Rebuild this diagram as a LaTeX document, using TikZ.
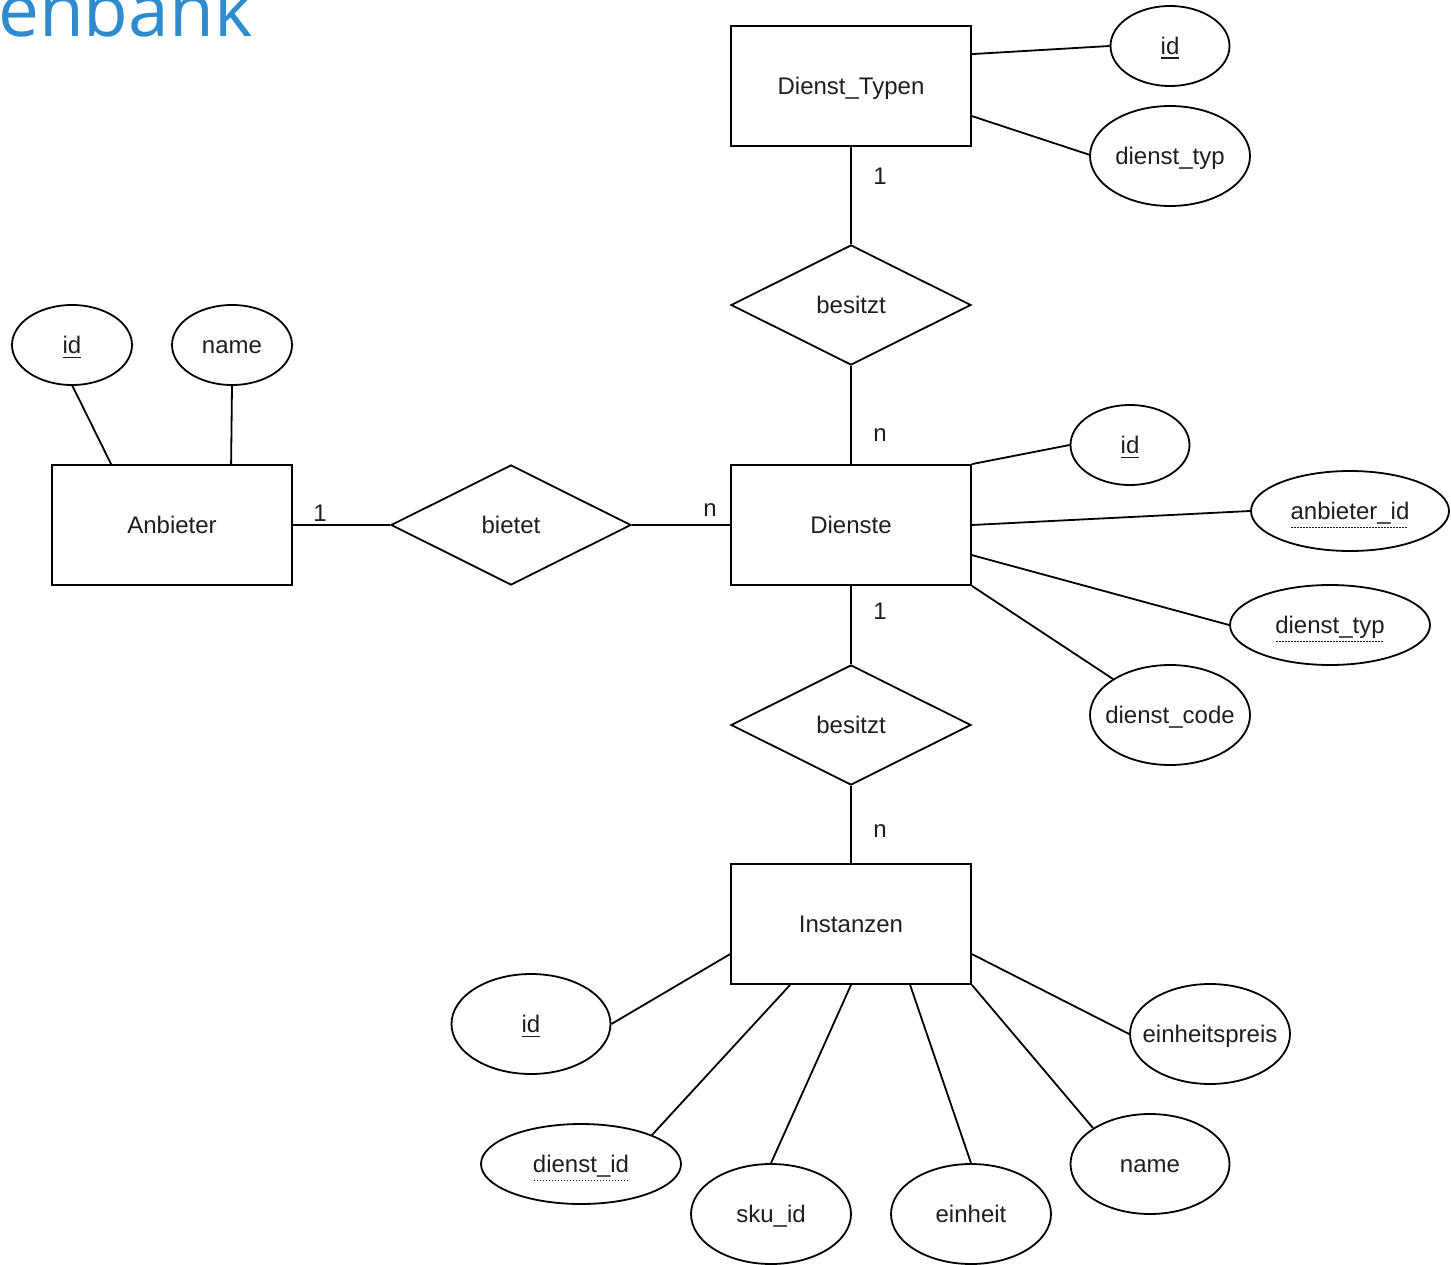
\documentclass[tikz,border=0pt]{standalone}
\usepackage{fontspec}
\setmainfont{Liberation Sans}
\newfontfamily\titlefont{Open Sans}
\usetikzlibrary{shapes.geometric,calc}
\definecolor{txt}{RGB}{30,30,30}
\definecolor{titleblue}{RGB}{46,139,206}
\newcommand{\myul}[1]{\setbox0\hbox{#1}\rlap{\vrule width \wd0 height -3pt depth 4.6pt}\box0}
\newcommand{\mydotul}[1]{\setbox0\hbox{#1}\rlap{\hbox to \wd0{\leaders\hbox to 3pt{\hss\vrule width 1.7pt height -7pt depth 8.8pt\hss}\hfill}}\box0}
\begin{document}
\begin{tikzpicture}[x=1pt,y=-1pt,
  every node/.style={font=\fontsize{24}{28}\selectfont, text=txt},
  entity/.style={draw, rectangle, minimum width=240pt, minimum height=120pt, inner sep=0pt, line width=1.8pt, text height=20pt, text depth=3pt},
  rel/.style={draw, diamond, aspect=2, minimum width=240pt, minimum height=120pt, inner sep=0pt, line width=1.8pt, text height=20pt, text depth=3pt},
  attr/.style={draw, ellipse, inner sep=0pt, line width=1.8pt, text height=20pt, text depth=3pt},
  conn/.style={line width=1.8pt},
  card/.style={inner sep=0pt}]
\useasboundingbox (0,0) rectangle (1451,1265);
\clip (0,0) rectangle (1451,1265);

\node[anchor=base west, font=\titlefont\fontsize{73}{80}\selectfont, text=titleblue, inner sep=0pt] (title) at (-2,37) {enbank};

% Dienst_Typen
\node[entity] (dt) at (851,86) {Dienst\_Typen};
\node[attr, minimum width=119pt, minimum height=80pt] (dtid) at (1170,46) {\makebox[0pt]{\myul{id}}};
\node[attr, minimum width=160pt, minimum height=100pt] (dttyp) at (1170,156) {\makebox[0pt]{dienst\_typ}};
\draw[conn] ($(dt.north east)+(0,29)$) -- (dtid.west);
\draw[conn] ($(dt.north east)+(0,91)$) -- ($(dttyp.center)+(-80,-1)$);

% besitzt 1
\node[rel] (b1) at (851,305) {besitzt};
\draw[conn] (dt.south) -- (b1.north);
\node[card] (c1) at (880,176) {1};

% Dienste
\node[entity] (d) at (851,525) {Dienste};
\draw[conn] (b1.south) -- (d.north);
\node[card] (c2) at (880,435) {n};
\node[attr, minimum width=119pt, minimum height=80pt] (did) at (1130,445) {\makebox[0pt]{\myul{id}}};
\node[attr, minimum width=198pt, minimum height=80pt] (danb) at (1350,511) {\makebox[0pt]{\mydotul{anbieter\_id}}};
\node[attr, minimum width=200pt, minimum height=80pt] (dtyp) at (1330,625) {\makebox[0pt]{\mydotul{dienst\_typ}}};
\node[attr, minimum width=160pt, minimum height=100pt] (dcode) at (1170,715) {\makebox[0pt]{dienst\_code}};
\draw[conn] (d.north east) -- (did.west);
\draw[conn] (d.east) -- (danb.west);
\draw[conn] ($(d.north east)+(0,91)$) -- (dtyp.west);
\draw[conn] (d.south east) -- ($(dcode.center)+(-57,-36)$);

% Anbieter
\node[entity] (a) at (172,525) {Anbieter};
\node[attr, minimum width=120pt, minimum height=80pt] (aid) at (72,345) {\makebox[0pt]{\myul{id}}};
\node[attr, minimum width=120pt, minimum height=80pt] (aname) at (232,345) {\makebox[0pt]{name}};
\draw[conn] ($(a.north west)+(60,0)$) -- ($(aid.center)+(0,40)$);
\draw[conn] ($(a.north west)+(180,0)$) -- (aname.south);

% bietet
\node[rel] (bt) at (511,525) {bietet};
\draw[conn] (a.east) -- (bt.west);
\draw[conn] (bt.east) -- (d.west);
\node[card] (c3) at (320,513) {1};
\node[card] (c4) at (710,510) {n};

% besitzt 2
\node[rel] (b2) at (851,725) {besitzt};
\draw[conn] (d.south) -- (b2.north);
\node[card] (c5) at (880,611) {1};

% Instanzen
\node[entity] (i) at (851,924) {Instanzen};
\draw[conn] (b2.south) -- (i.north);
\node[card] (c6) at (880,831) {n};
\node[attr, minimum width=159pt, minimum height=100pt] (iid) at (531,1024) {\makebox[0pt]{\myul{id}}};
\node[attr, minimum width=200pt, minimum height=80pt] (idid) at (581,1164) {\makebox[0pt]{\mydotul{dienst\_id}}};
\node[attr, minimum width=160pt, minimum height=100pt] (isku) at (771,1214) {\makebox[0pt]{sku\_id}};
\node[attr, minimum width=160pt, minimum height=100pt] (ieinh) at (971,1214) {\makebox[0pt]{einheit}};
\node[attr, minimum width=159pt, minimum height=100pt] (iname) at (1150,1164) {\makebox[0pt]{name}};
\node[attr, minimum width=160pt, minimum height=100pt] (ipreis) at (1210,1034) {\makebox[0pt]{einheitspreis}};
\draw[conn] ($(i.north west)+(0,91)$) -- (iid.east);
\draw[conn] ($(i.south west)+(60,0)$) -- ($(idid.center)+(71,-29)$);
\draw[conn] (i.south) -- (isku.north);
\draw[conn] ($(i.south west)+(180,0)$) -- (ieinh.north);
\draw[conn] (i.south east) -- ($(iname.center)+(-57,-36)$);
\draw[conn] ($(i.north east)+(0,91)$) -- (ipreis.west);
\end{tikzpicture}
\end{document}
